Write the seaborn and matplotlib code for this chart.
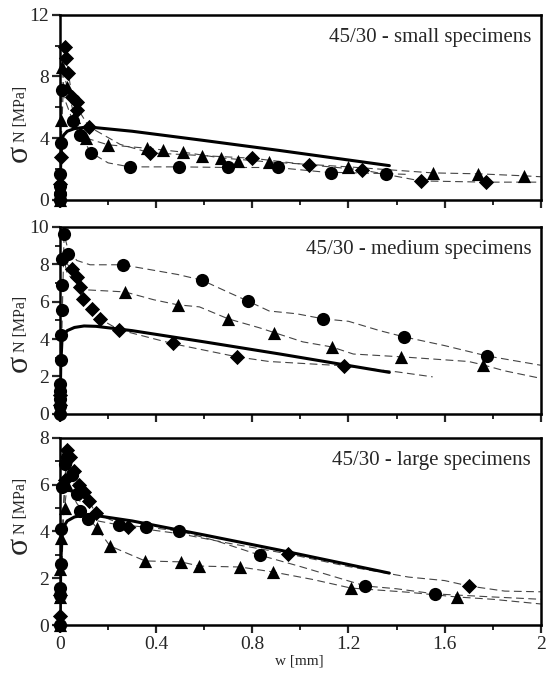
import matplotlib
matplotlib.use("Agg")
import matplotlib.pyplot as plt
import seaborn as sns
import pandas as pd
from matplotlib.ticker import MultipleLocator

# ---------------- data ----------------
# model (solid) curve, same in every panel
model_w = [0, 0.003, 0.008, 0.015, 0.03, 0.06, 0.1, 0.15, 0.3, 0.6, 0.915, 1.37]
model_s = [0, 2.5, 3.9, 4.2, 4.45, 4.62, 4.7, 4.68, 4.45, 3.85, 3.2, 2.22]

# small specimens
s_circ_w = [0, 0, 0, 0.001, 0.004, 0.008, 0.054, 0.083, 0.13, 0.29, 0.495, 0.70, 0.906, 1.127, 1.356]
s_circ_s = [0, 0.4, 0.9, 1.7, 3.7, 7.1, 5.1, 4.2, 3.05, 2.14, 2.14, 2.12, 2.1, 1.77, 1.7]
s_circ_lw = [0, 0.004, 0.008, 0.02, 0.054, 0.083, 0.13, 0.2, 0.29, 0.5, 0.7, 0.9, 1.1, 1.36, 1.45]
s_circ_ls = [0, 3.7, 7.1, 6.5, 5.1, 4.2, 3.05, 2.4, 2.14, 2.14, 2.1, 2.1, 1.8, 1.7, 1.65]

s_tri_w = [0, 0.002, 0.004, 0.01, 0.03, 0.06, 0.11, 0.2, 0.36, 0.43, 0.51, 0.59, 0.67, 0.74, 0.87, 1.2, 1.55, 1.74, 1.93]
s_tri_s = [0, 0.9, 5.2, 8.6, 7.3, 5.4, 4.0, 3.57, 3.35, 3.24, 3.1, 2.85, 2.72, 2.53, 2.46, 2.14, 1.75, 1.69, 1.56]
s_tri_lw = [0, 0.004, 0.01, 0.03, 0.06, 0.11, 0.2, 0.36, 0.51, 0.67, 0.87, 1.2, 1.55, 1.74, 1.93, 2.0]
s_tri_ls = [0, 5.2, 8.6, 7.3, 5.4, 4.0, 3.57, 3.35, 3.1, 2.72, 2.46, 2.14, 1.75, 1.69, 1.56, 1.5]

s_dia_w = [0, 0.001, 0.003, 0.02, 0.025, 0.035, 0.05, 0.07, 0.072, 0.12, 0.375, 0.8, 1.035, 1.255, 1.5, 1.77]
s_dia_s = [0, 1.0, 2.8, 9.9, 9.2, 8.2, 6.7, 6.35, 5.8, 4.75, 3.05, 2.7, 2.27, 1.95, 1.23, 1.15]
s_dia_lw = [0, 0.003, 0.02, 0.035, 0.05, 0.07, 0.12, 0.25, 0.375, 0.8, 1.035, 1.255, 1.5, 1.77, 2.0]
s_dia_ls = [0, 2.8, 9.9, 8.2, 6.7, 6.0, 4.75, 3.6, 3.05, 2.7, 2.27, 1.95, 1.23, 1.15, 1.15]

# medium specimens
m_circ_w = [0, 0, 0, 0, 0.001, 0.003, 0.006, 0.008, 0.01, 0.01, 0.017, 0.033, 0.26, 0.59, 0.78, 1.095, 1.43, 1.775]
m_circ_s = [0, 0.4, 0.8, 1.2, 1.6, 2.9, 4.2, 5.56, 6.9, 8.3, 9.6, 8.55, 7.97, 7.15, 6.04, 5.08, 4.12, 3.1]
m_circ_lw = [0, 0.017, 0.033, 0.07, 0.125, 0.26, 0.49, 0.59, 0.7, 0.78, 0.87, 0.985, 1.095, 1.2, 1.33, 1.43, 1.6, 1.775, 2.0]
m_circ_ls = [0, 9.6, 8.8, 8.2, 7.97, 7.97, 7.45, 7.15, 6.5, 6.04, 5.5, 5.35, 5.08, 4.95, 4.45, 4.12, 3.65, 3.1, 2.6]

m_tri_w = [0.27, 0.49, 0.7, 0.89, 1.13, 1.42, 1.76]
m_tri_s = [6.52, 5.83, 5.08, 4.35, 3.58, 3.05, 2.62]
m_tri_lw = [0.01, 0.03, 0.096, 0.27, 0.39, 0.49, 0.58, 0.7, 0.83, 0.89, 1.01, 1.13, 1.22, 1.42, 1.7, 1.76, 1.85, 2.0]
m_tri_ls = [8.6, 7.5, 6.64, 6.52, 6.1, 5.83, 5.72, 5.08, 4.6, 4.35, 3.85, 3.58, 3.2, 3.05, 2.8, 2.62, 2.3, 1.9]

m_dia_w = [0, 0, 0.001, 0.05, 0.07, 0.083, 0.096, 0.133, 0.166, 0.245, 0.47, 0.736, 1.18]
m_dia_s = [0, 0.5, 1.0, 7.75, 7.3, 6.8, 6.15, 5.6, 5.08, 4.5, 3.8, 3.05, 2.57]
m_dia_lw = [0.03, 0.05, 0.07, 0.083, 0.096, 0.133, 0.166, 0.245, 0.47, 0.736, 0.87, 1.18, 1.4, 1.55]
m_dia_ls = [8.0, 7.75, 7.3, 6.8, 6.15, 5.6, 5.08, 4.5, 3.75, 3.05, 2.8, 2.57, 2.25, 1.98]

# large specimens
l_circ_w = [0, 0, 0.001, 0.003, 0.006, 0.01, 0.02, 0.03, 0.05, 0.07, 0.083, 0.116, 0.245, 0.357, 0.495, 0.83, 1.27, 1.56]
l_circ_s = [0, 1.3, 1.6, 2.6, 4.1, 5.9, 6.9, 7.2, 6.4, 5.6, 4.88, 4.53, 4.28, 4.19, 4.02, 2.99, 1.67, 1.33]
l_circ_lw = [0, 0.006, 0.03, 0.07, 0.116, 0.245, 0.357, 0.495, 0.65, 0.83, 1.0, 1.27, 1.4, 1.56, 1.8, 2.0]
l_circ_ls = [0, 4.1, 7.2, 5.6, 4.53, 4.28, 4.19, 4.02, 3.6, 2.99, 2.5, 1.67, 1.55, 1.33, 1.2, 1.1]

l_tri_w = [0, 0.001, 0.002, 0.004, 0.02, 0.03, 0.153, 0.208, 0.354, 0.503, 0.58, 0.75, 0.885, 1.21, 1.65]
l_tri_s = [0, 1.2, 2.4, 3.7, 5.0, 6.0, 4.15, 3.38, 2.74, 2.7, 2.52, 2.48, 2.27, 1.58, 1.2]
l_tri_lw = [0, 0.004, 0.03, 0.07, 0.153, 0.208, 0.354, 0.503, 0.58, 0.75, 0.885, 1.05, 1.21, 1.45, 1.65, 1.8, 2.0]
l_tri_ls = [0, 3.7, 6.0, 5.2, 4.15, 3.38, 2.74, 2.7, 2.52, 2.48, 2.27, 1.95, 1.58, 1.4, 1.2, 1.1, 0.9]

l_dia_w = [0, 0, 0.001, 0.02, 0.03, 0.04, 0.06, 0.08, 0.1, 0.12, 0.15, 0.283, 0.95, 1.7]
l_dia_s = [0, 0.4, 1.3, 6.2, 7.5, 7.2, 6.6, 6.0, 5.7, 5.3, 4.8, 4.2, 3.04, 1.67]
l_dia_lw = [0, 0.02, 0.03, 0.06, 0.1, 0.15, 0.283, 0.5, 0.7, 0.95, 1.2, 1.45, 1.6, 1.7, 1.85, 2.0]
l_dia_ls = [0, 6.2, 7.5, 6.6, 5.7, 4.75, 4.2, 3.9, 3.5, 3.04, 2.5, 2.05, 1.9, 1.67, 1.45, 1.42]

titles = ["45/30 - small specimens", "45/30 - medium specimens", "45/30 - large specimens"]
y_max = [12, 10, 8]
y_major = [4, 2, 2]
x_ticks = [0, 0.4, 0.8, 1.2, 1.6, 2]
x_tick_labels = ["0", "0.4", "0.8", "1.2", "1.6", "2"]

panels = [
    [(s_circ_w, s_circ_s, s_circ_lw, s_circ_ls, "o"),
     (s_tri_w, s_tri_s, s_tri_lw, s_tri_ls, "^"),
     (s_dia_w, s_dia_s, s_dia_lw, s_dia_ls, "D")],
    [(m_circ_w, m_circ_s, m_circ_lw, m_circ_ls, "o"),
     (m_tri_w, m_tri_s, m_tri_lw, m_tri_ls, "^"),
     (m_dia_w, m_dia_s, m_dia_lw, m_dia_ls, "D")],
    [(l_circ_w, l_circ_s, l_circ_lw, l_circ_ls, "o"),
     (l_tri_w, l_tri_s, l_tri_lw, l_tri_ls, "^"),
     (l_dia_w, l_dia_s, l_dia_lw, l_dia_ls, "D")],
]

# ---------------- style ----------------
sns.set_theme(style="ticks")
plt.rcParams["font.family"] = ["Liberation Serif", "DejaVu Serif"]

marker_size = {"o": 90, "^": 90, "D": 60}

W, H = 547, 673
fig = plt.figure(figsize=(W / 100, H / 100), dpi=100)
boxes = [
    (0.1097, 0.703, 0.879, 0.275),
    (0.1097, 0.385, 0.879, 0.278),
    (0.1097, 0.0713, 0.879, 0.278),
]
# vertical pixel position (from top) of the large sigma in each y label
sigma_y = [153, 363, 545]

model_df = pd.DataFrame({"w": model_w, "s": model_s})

for i, box in enumerate(boxes):
    ax = fig.add_axes(box)
    for (mw, ms, lw_, ls_, mk) in panels[i]:
        line_df = pd.DataFrame({"w": lw_, "s": ls_})
        sns.lineplot(data=line_df, x="w", y="s", ax=ax, sort=False, estimator=None,
                     color="#444444", linewidth=0.8, linestyle=(0, (7, 4)))
    sns.lineplot(data=model_df, x="w", y="s", ax=ax, sort=False, estimator=None,
                 color="black", linewidth=2.2)
    for (mw, ms, lw_, ls_, mk) in panels[i]:
        pts = pd.DataFrame({"w": mw, "s": ms})
        sns.scatterplot(data=pts, x="w", y="s", ax=ax, marker=mk, s=marker_size[mk],
                        color="black", edgecolor="black", linewidth=0, clip_on=False, zorder=5)

    ax.set_xlim(0, 2)
    ax.set_ylim(0, y_max[i])
    ax.xaxis.set_major_locator(MultipleLocator(0.4))
    ax.xaxis.set_minor_locator(MultipleLocator(0.2))
    ax.yaxis.set_major_locator(MultipleLocator(y_major[i]))
    ax.yaxis.set_minor_locator(MultipleLocator(y_major[i] / 2))
    ax.tick_params(which="major", direction="out", length=6, width=1.6, labelsize=14, pad=2)
    ax.tick_params(which="minor", direction="out", length=3.5, width=1.4)
    for sp in ax.spines.values():
        sp.set_visible(True)
        sp.set_linewidth(1.8)
        sp.set_color("black")
    if i < 2:
        ax.set_xticklabels([])
    else:
        ax.set_xticks(x_ticks)
        ax.set_xticklabels(x_tick_labels)
    ax.set_xlabel("")
    ax.set_ylabel("")
    ax.text(0.98, 0.88, titles[i], transform=ax.transAxes, ha="right", va="center",
            fontsize=15)

    # y label: large sigma with a small "N [MPa]" subscript
    fig.text(19 / W, 1 - sigma_y[i] / H, "σ", rotation=90, ha="center", va="center",
             fontsize=23)
    fig.text(21 / W, 1 - (sigma_y[i] - 11) / H, "N [MPa]", rotation=90, ha="center",
             va="bottom", fontsize=11.5)

fig.text(0.548, 0.018, "w [mm]", ha="center", va="center", fontsize=11)

fig.savefig("out.png", dpi=100)
